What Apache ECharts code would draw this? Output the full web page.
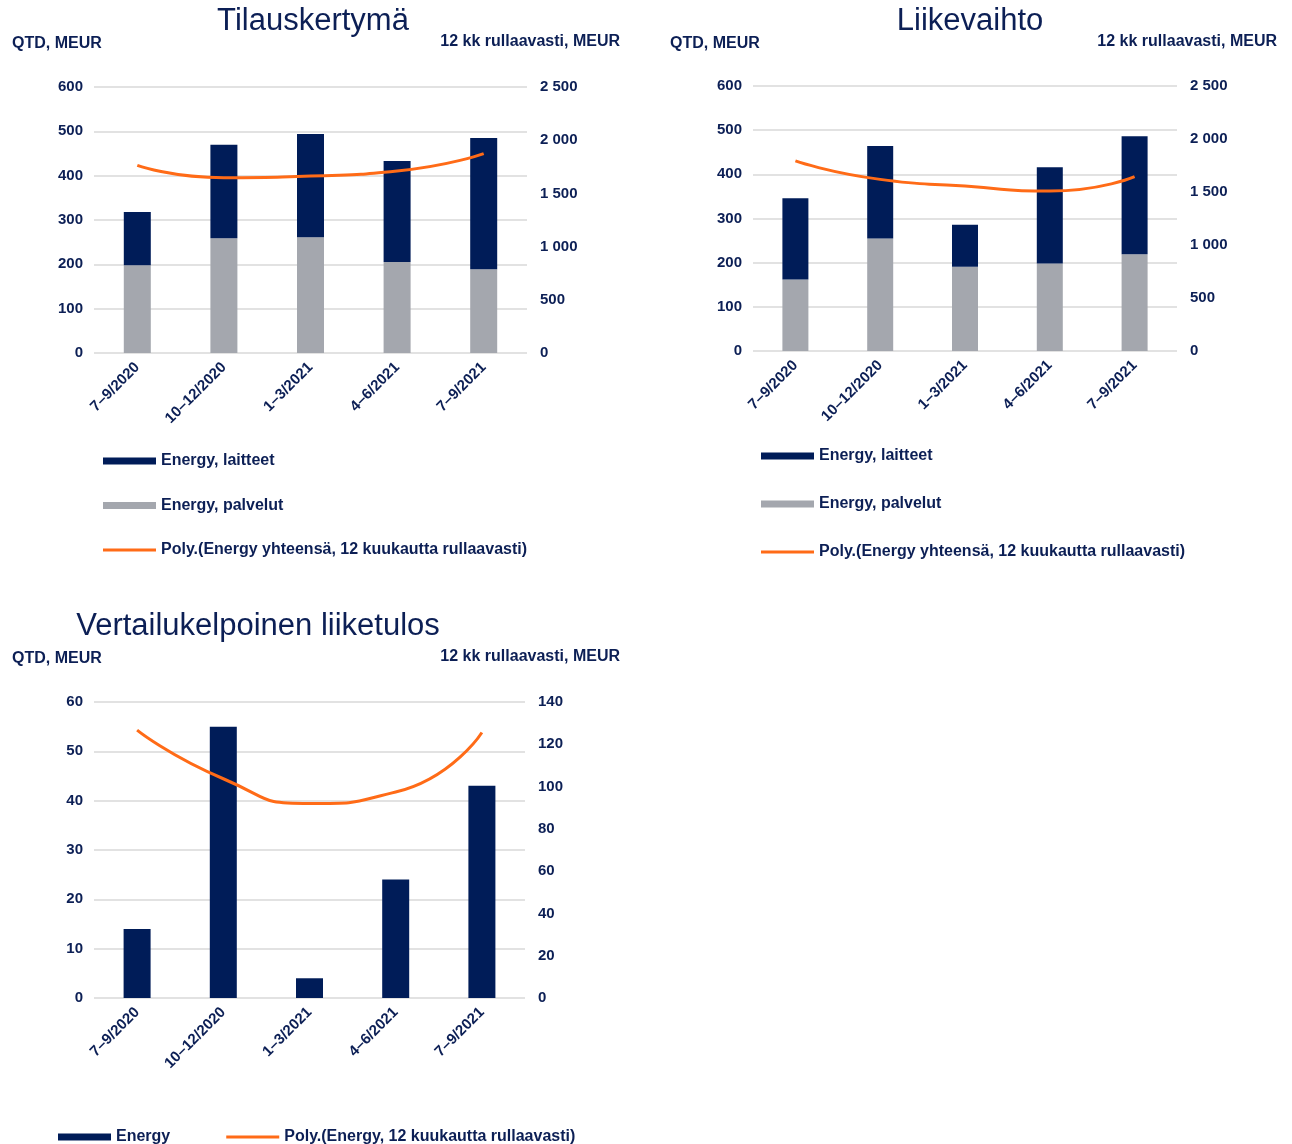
<!DOCTYPE html>
<html>
<head>
<meta charset="utf-8">
<script src="https://cdn.jsdelivr.net/npm/echarts@6/dist/echarts.min.js"></script>
<style>
  html, body { margin: 0; padding: 0; background: #fff; }
  #chart { width: 1292px; height: 1144px; }
</style>
</head>
<body>
<div id="chart"></div>
<script>
  // quarters
  const categories = ['7–9/2020', '10–12/2020', '1–3/2021', '4–6/2021', '7–9/2021'];

  // Tilauskertymä, MEUR
  const tilausPalvelut = [198, 259, 261, 205, 189];
  const tilausLaitteet = [120, 211, 233, 228, 296];
  const tilausTrend = [1764, 1648, 1664, 1711, 1874];

  // Liikevaihto, MEUR
  const liikevaihtoPalvelut = [162, 255, 191, 198, 219];
  const liikevaihtoLaitteet = [184, 209, 95, 218, 267];
  const liikevaihtoTrend = [1793, 1619, 1556, 1509, 1645];

  // Vertailukelpoinen liiketulos, MEUR
  const liiketulos = [14, 55, 4, 24, 43];
  const liiketulosTrend = [126.7, 103.7, 92, 97.4, 125.6];

  const NAVY = '#001C58';
  const GREY = '#A4A7AE';
  const ORANGE = '#FF6B17';
  const TEXT = '#0C1F55';
  const FONT = '"Liberation Sans", Arial, sans-serif';
  const LINE_ICON = 'path://M0 0H53V3H0Z';

  const boldText = { color: TEXT, fontWeight: 'bold', fontSize: 15, fontFamily: FONT };
  const boldBig = { color: TEXT, fontWeight: 'bold', fontSize: 16, fontFamily: FONT };

  function spaced(v) {
    return String(v).replace(/\B(?=(\d{3})+(?!\d))/g, ' ');
  }

  function leftAxis(gridIndex, max, interval) {
    return {
      type: 'value', gridIndex: gridIndex, position: 'left',
      min: 0, max: max, interval: interval,
      axisLine: { show: false }, axisTick: { show: false },
      axisLabel: Object.assign({ margin: 11 }, boldText),
      splitLine: { lineStyle: { color: '#D9D9D9', width: 1.5 } },
    };
  }

  function rightAxis(gridIndex, max, interval) {
    return {
      type: 'value', gridIndex: gridIndex, position: 'right',
      min: 0, max: max, interval: interval,
      axisLine: { show: false }, axisTick: { show: false },
      axisLabel: Object.assign({ margin: 13, formatter: spaced }, boldText),
      splitLine: { show: false },
    };
  }

  function catAxis(gridIndex) {
    return {
      type: 'category', gridIndex: gridIndex, data: categories,
      axisLine: { show: false }, axisTick: { show: false },
      axisLabel: Object.assign({ rotate: 45, margin: 12, interval: 0 }, boldText),
    };
  }

  function header(text, pos, top, size) {
    return Object.assign({
      text: text, top: top, padding: 0,
      textStyle: size
        ? { color: TEXT, fontWeight: 'normal', fontSize: size, fontFamily: FONT }
        : boldBig,
    }, pos);
  }

  function legend(pos, orient, gap, names) {
    return Object.assign({
      orient: orient, padding: 0, itemWidth: 53, itemHeight: 7, itemGap: gap,
      textStyle: boldBig,
      data: names.map(function (n, i) {
        return { name: n, icon: i === names.length - 1 ? LINE_ICON : 'rect' };
      }),
    }, pos);
  }

  const chart = echarts.init(document.getElementById('chart'));
  chart.setOption({
    animation: false,
    textStyle: { fontFamily: FONT },
    title: [
      header('Tilauskertymä', { left: 313, textAlign: 'center' }, 6, 31),
      header('Liikevaihto', { left: 970, textAlign: 'center' }, 6, 31),
      header('Vertailukelpoinen liiketulos', { left: 258, textAlign: 'center' }, 611, 31),
      header('QTD, MEUR', { left: 12 }, 36),
      header('12 kk rullaavasti, MEUR', { right: 672 }, 34),
      header('QTD, MEUR', { left: 670 }, 36),
      header('12 kk rullaavasti, MEUR', { right: 15 }, 34),
      header('QTD, MEUR', { left: 12 }, 651),
      header('12 kk rullaavasti, MEUR', { right: 672 }, 649),
    ],
    legend: [
      legend({ left: 103, top: 453 }, 'vertical', 28.5,
        ['Energy, laitteet', 'Energy, palvelut', 'Poly.(Energy yhteensä, 12 kuukautta rullaavasti)']),
      legend({ left: 761, top: 448 }, 'vertical', 32,
        ['Energy, laitteet', 'Energy, palvelut', 'Poly.(Energy yhteensä, 12 kuukautta rullaavasti)']),
      legend({ left: 58, top: 1129 }, 'horizontal', 56,
        ['Energy', 'Poly.(Energy, 12 kuukautta rullaavasti)']),
    ],
    grid: [
      { left: 94, top: 87, width: 433, height: 266 },
      { left: 753, top: 86, width: 424, height: 265 },
      { left: 94, top: 702, width: 431, height: 296 },
    ],
    xAxis: [catAxis(0), catAxis(1), catAxis(2)],
    yAxis: [
      leftAxis(0, 600, 100), rightAxis(0, 2500, 500),
      leftAxis(1, 600, 100), rightAxis(1, 2500, 500),
      leftAxis(2, 60, 10), rightAxis(2, 140, 20),
    ],
    series: [
      {
        name: 'Energy, palvelut', type: 'bar', stack: 't', xAxisIndex: 0, yAxisIndex: 0,
        barWidth: 27, itemStyle: { color: GREY }, data: tilausPalvelut,
      },
      {
        name: 'Energy, laitteet', type: 'bar', stack: 't', xAxisIndex: 0, yAxisIndex: 0,
        barWidth: 27, itemStyle: { color: NAVY }, data: tilausLaitteet,
      },
      {
        name: 'Poly.(Energy yhteensä, 12 kuukautta rullaavasti)', type: 'line',
        xAxisIndex: 0, yAxisIndex: 1, smooth: 0.6, symbol: 'none',
        lineStyle: { color: ORANGE, width: 3 }, itemStyle: { color: ORANGE },
        data: tilausTrend,
      },
      {
        name: 'Energy, palvelut', type: 'bar', stack: 'l', xAxisIndex: 1, yAxisIndex: 2,
        barWidth: 26, itemStyle: { color: GREY }, data: liikevaihtoPalvelut,
      },
      {
        name: 'Energy, laitteet', type: 'bar', stack: 'l', xAxisIndex: 1, yAxisIndex: 2,
        barWidth: 26, itemStyle: { color: NAVY }, data: liikevaihtoLaitteet,
      },
      {
        name: 'Poly.(Energy yhteensä, 12 kuukautta rullaavasti)', type: 'line',
        xAxisIndex: 1, yAxisIndex: 3, smooth: 0.6, symbol: 'none',
        lineStyle: { color: ORANGE, width: 3 }, itemStyle: { color: ORANGE },
        data: liikevaihtoTrend,
      },
      {
        name: 'Energy', type: 'bar', xAxisIndex: 2, yAxisIndex: 4,
        barWidth: 27, itemStyle: { color: NAVY }, data: liiketulos,
      },
      {
        name: 'Poly.(Energy, 12 kuukautta rullaavasti)', type: 'line',
        xAxisIndex: 2, yAxisIndex: 5, smooth: 0.6, symbol: 'none',
        lineStyle: { color: ORANGE, width: 3 }, itemStyle: { color: ORANGE },
        data: liiketulosTrend,
      },
    ],
  });
</script>
</body>
</html>
